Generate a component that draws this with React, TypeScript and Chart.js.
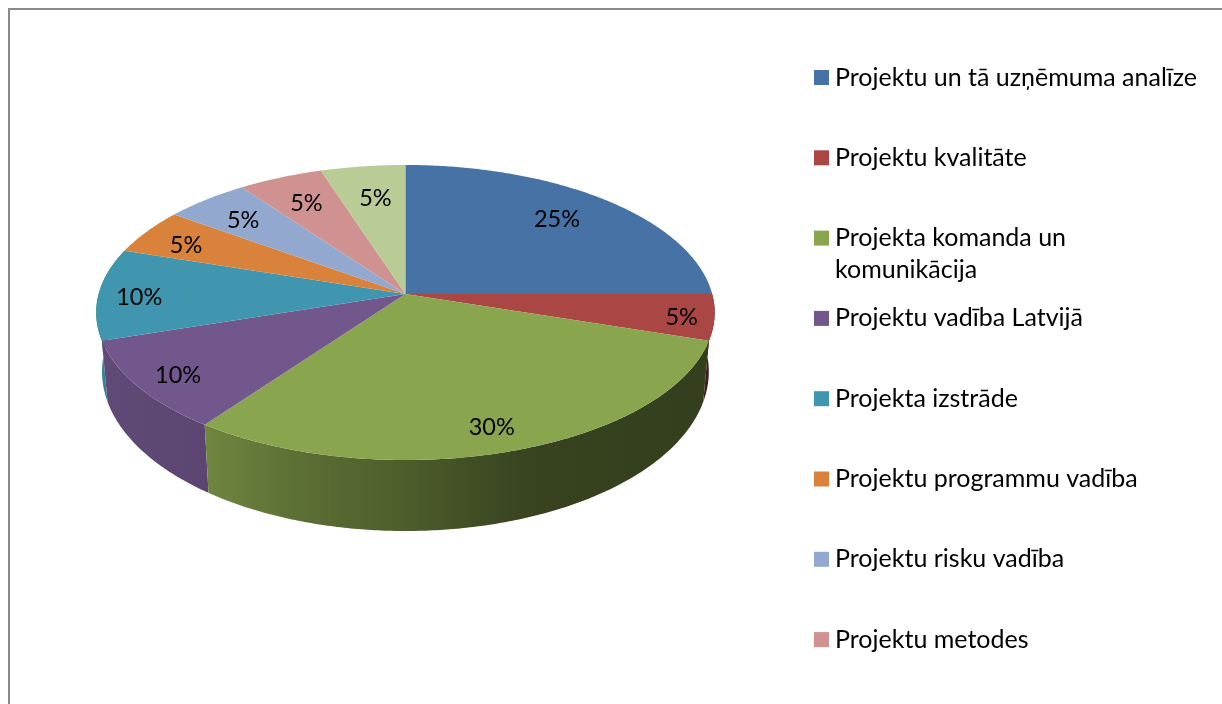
import React, { useEffect, useRef } from "react";
import { Chart, registerables } from "chart.js";

Chart.register(...registerables);

// ---- data ----
const categories = [
  "Projektu un tā uzņēmuma analīze",
  "Projektu kvalitāte",
  "Projekta komanda un\nkomunikācija",
  "Projektu vadība Latvijā",
  "Projekta izstrāde",
  "Projektu programmu vadība",
  "Projektu risku vadība",
  "Projektu metodes",
  "",
];
const shares = [25, 5, 30, 10, 10, 5, 5, 5, 5];
const colors = ["#4672A6", "#AA4644", "#89A54E", "#71578C", "#4096AE", "#D9823C", "#93A8CF", "#D09291", "#BACC95"];
const labelRadius = [0.768, 0.896, 0.854, 0.863, 0.866, 0.829, 0.79, 0.772, 0.737];
const labelTurn = [-0.026, 0.01, 0.014, -0.01, -0.016, -0.023, -0.012, 0, 0.012];

// ---- projection of the pie disc ----
const CX = 405.4;
const TOP = { cy: 294, a: 306.8, b: 145.2 };
const BOTTOM = { cy: 351.5, a: 301, b: 157 };
const K = 0.1254;
const wallShade: [number, number][] = [
  [96, 0.9], [110, 0.84], [205, 0.81], [300, 0.67], [400, 0.57], [500, 0.44], [540, 0.4], [716, 0.38],
];
const FONT = "Lato, Carlito, sans-serif";

function project(disc: { cy: number; a: number; b: number }, angle: number, r = 1) {
  const u = Math.cos(angle) * r;
  const v = Math.sin(angle) * r;
  const w = 1 - K * v;
  return { x: CX + (disc.a * u) / w, y: disc.cy + (disc.b * v) / w };
}

function shade(hex: string, f: number) {
  const n = parseInt(hex.slice(1), 16);
  const c = [(n >> 16) & 255, (n >> 8) & 255, n & 255].map((q) => Math.round(q * f));
  return `rgb(${c[0]},${c[1]},${c[2]})`;
}

function rimPath(ctx: CanvasRenderingContext2D, disc: typeof TOP, from: number, to: number, first: boolean) {
  const steps = Math.max(4, Math.ceil(Math.abs(to - from) / 0.01));
  for (let i = 0; i <= steps; i++) {
    const p = project(disc, from + ((to - from) * i) / steps);
    if (first && i === 0) ctx.moveTo(p.x, p.y);
    else ctx.lineTo(p.x, p.y);
  }
}

const pie3d = {
  id: "pie3d",
  beforeDatasetDraw(chart: any) {
    const ctx: CanvasRenderingContext2D = chart.ctx;
    const arcs: any[] = chart.getDatasetMeta(0).data;
    const slices = arcs.map((arc, i) => ({ i, start: arc.startAngle, end: arc.endAngle }));
    // side walls, far ones first
    const front = slices
      .filter((s) => Math.sin((s.start + s.end) / 2) > -0.05 || Math.sin(s.start) > 0 || Math.sin(s.end) > 0)
      .filter((s) => s.i !== 0)
      .sort((p, q) => Math.sin((p.start + p.end) / 2) - Math.sin((q.start + q.end) / 2));
    for (const s of front) {
      const g = ctx.createLinearGradient(96, 0, 716, 0);
      for (const [x, f] of wallShade) g.addColorStop((x - 96) / 620, shade(colors[s.i], f));
      ctx.beginPath();
      rimPath(ctx, TOP, s.start, s.end, true);
      rimPath(ctx, BOTTOM, s.end, s.start, false);
      ctx.closePath();
      ctx.fillStyle = g;
      ctx.fill();
    }
    // top face
    for (const s of slices) {
      ctx.beginPath();
      ctx.moveTo(CX, TOP.cy);
      rimPath(ctx, TOP, s.start, s.end, false);
      ctx.closePath();
      ctx.fillStyle = colors[s.i];
      ctx.fill();
    }
    // value labels
    ctx.fillStyle = "#000";
    ctx.textAlign = "center";
    ctx.textBaseline = "middle";
    ctx.font = `23.5px ${FONT}`;
    const total = shares.reduce((a, b) => a + b, 0);
    slices.forEach((s) => {
      const p = project(TOP, (s.start + s.end) / 2 + labelTurn[s.i], labelRadius[s.i]);
      ctx.fillText(`${Math.round((shares[s.i] / total) * 100)}%`, p.x, p.y + 1.5);
    });
    // legend
    ctx.textAlign = "left";
    ctx.font = `25px ${FONT}`;
    categories.forEach((name, i) => {
      if (!name) return;
      const y = 77.5 + i * 80.3;
      ctx.fillStyle = colors[i];
      ctx.fillRect(814, y - 7.5, 15, 15);
      ctx.fillStyle = "#000";
      name.split("\n").forEach((line, j) => ctx.fillText(line, 835, y + j * 32));
    });
    return false;
  },
};

export default function App() {
  const ref = useRef<HTMLCanvasElement>(null);
  useEffect(() => {
    const chart = new Chart(ref.current!, {
      type: "pie",
      data: { labels: categories, datasets: [{ data: shares, backgroundColor: colors, borderWidth: 0 }] },
      options: {
        responsive: false,
        animation: false,
        devicePixelRatio: 1,
        plugins: { legend: { display: false }, tooltip: { enabled: false } },
      },
      plugins: [pie3d],
    } as any);
    return () => chart.destroy();
  }, []);
  return (
    <div style={{ position: "fixed", inset: 0, background: "#fff", overflow: "hidden" }}>
      <canvas ref={ref} width={1222} height={704} style={{ position: "absolute", left: 0, top: 0, display: "block" }} />
      <div style={{ position: "absolute", left: 8, top: 8, right: -4, bottom: -4, borderLeft: "2px solid #8a8a8a", borderTop: "2px solid #8a8a8a" }} />
    </div>
  );
}
